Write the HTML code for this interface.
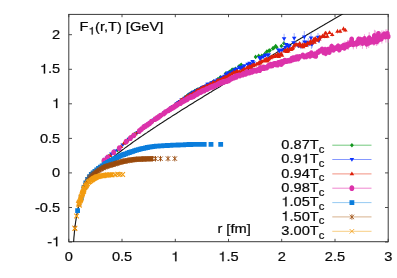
<!DOCTYPE html>
<html><head><meta charset="utf-8"><title>F1(r,T)</title>
<style>
html,body{margin:0;padding:0;background:#fff;}
svg{display:block;filter:blur(0.35px);}
text{font-family:"Liberation Sans",sans-serif;font-size:13.3px;fill:#0a0a0a;stroke:#0a0a0a;stroke-width:0.22px;}
</style></head><body>
<svg width="397" height="278" viewBox="0 0 397 278">
<rect x="0" y="0" width="397" height="278" fill="#ffffff"/>
<defs><clipPath id="cp"><rect x="68.8" y="14.0" width="319.4" height="228.0"/></clipPath></defs>
<path d="M68.8 242.0v-3.2M68.8 14.0v3.2M122.0 242.0v-3.2M122.0 14.0v3.2M175.3 242.0v-3.2M175.3 14.0v3.2M228.5 242.0v-3.2M228.5 14.0v3.2M281.7 242.0v-3.2M281.7 14.0v3.2M335.0 242.0v-3.2M335.0 14.0v3.2M388.2 242.0v-3.2M388.2 14.0v3.2M68.8 242.0h3.2M388.2 242.0h-3.2M68.8 207.5h3.2M388.2 207.5h-3.2M68.8 172.9h3.2M388.2 172.9h-3.2M68.8 138.4h3.2M388.2 138.4h-3.2M68.8 103.8h3.2M388.2 103.8h-3.2M68.8 69.3h3.2M388.2 69.3h-3.2M68.8 34.7h3.2M388.2 34.7h-3.2" stroke="#3a3a3a" stroke-width="0.9" fill="none"/>
<rect x="68.8" y="14.4" width="319.4" height="227.3" fill="none" stroke="#3a3a3a" stroke-width="1"/>
<polyline clip-path="url(#cp)" points="72.0,273.2 72.2,266.7 72.5,261.0 72.7,256.0 73.0,251.6 73.2,247.5 73.4,243.9 73.7,240.6 73.9,237.6 74.2,234.9 74.4,232.3 74.7,229.9 74.9,227.8 75.1,225.7 75.4,223.8 75.6,222.0 75.9,220.3 76.1,218.8 76.3,217.3 76.6,215.8 76.8,214.5 77.1,213.2 77.3,212.0 77.5,210.8 77.8,209.7 78.0,208.6 78.3,207.6 78.5,206.6 78.8,205.7 79.0,204.8 79.2,203.9 79.5,203.0 79.7,202.2 80.0,201.4 80.2,200.7 80.4,199.9 80.7,199.2 80.9,198.5 81.2,197.8 81.4,197.2 81.7,196.5 81.9,195.9 82.1,195.3 82.4,194.7 82.6,194.1 82.9,193.6 83.1,193.0 83.3,192.5 83.6,191.9 83.8,191.4 84.1,190.9 84.3,190.4 84.6,189.9 84.8,189.5 85.0,189.0 85.3,188.5 85.5,188.1 85.8,187.6 86.0,187.2 86.2,186.8 86.5,186.3 86.7,185.9 87.0,185.5 87.2,185.1 87.5,184.7 87.7,184.3 87.9,183.9 88.2,183.6 88.4,183.2 88.7,182.8 88.9,182.5 89.1,182.1 89.4,181.7 89.6,181.4 89.9,181.0 90.1,180.7 90.4,180.4 90.6,180.0 90.8,179.7 91.1,179.4 91.3,179.0 91.6,178.7 91.8,178.4 92.0,178.1 92.3,177.8 92.5,177.5 92.8,177.2 93.0,176.9 93.3,176.6 93.5,176.3 93.7,176.0 94.0,175.7 94.2,175.4 94.5,175.1 94.7,174.8 94.9,174.5 95.2,174.3 95.4,174.0 95.7,173.7 95.9,173.4 96.2,173.2 96.4,172.9 96.6,172.6 96.9,172.4 97.1,172.1 97.4,171.8 97.6,171.6 97.8,171.3 98.1,171.1 98.3,170.8 98.6,170.5 98.8,170.3 99.0,170.0 99.3,169.8 99.5,169.5 99.8,169.3 100.0,169.1 100.3,168.8 100.5,168.6 100.7,168.3 102.0,167.1 103.3,165.8 104.6,164.6 105.9,163.5 107.2,162.3 108.4,161.2 109.7,160.1 111.0,159.0 112.3,157.9 113.6,156.9 114.9,155.8 116.1,154.8 117.4,153.8 118.7,152.8 120.0,151.8 121.3,150.8 122.6,149.8 123.9,148.9 125.1,147.9 126.4,147.0 127.7,146.0 129.0,145.1 130.3,144.2 131.6,143.2 132.8,142.3 134.1,141.4 135.4,140.5 136.7,139.6 138.0,138.7 139.3,137.8 140.5,137.0 141.8,136.1 143.1,135.2 144.4,134.3 145.7,133.5 147.0,132.6 148.2,131.7 149.5,130.9 150.8,130.0 152.1,129.2 153.4,128.3 154.7,127.5 156.0,126.6 157.2,125.8 158.5,124.9 159.8,124.1 161.1,123.3 162.4,122.4 163.7,121.6 164.9,120.8 166.2,119.9 167.5,119.1 168.8,118.3 170.1,117.5 171.4,116.6 172.6,115.8 173.9,115.0 175.2,114.2 176.5,113.4 177.8,112.6 179.1,111.8 180.3,110.9 181.6,110.1 182.9,109.3 184.2,108.5 185.5,107.7 186.8,106.9 188.1,106.1 189.3,105.3 190.6,104.5 191.9,103.7 193.2,102.9 194.5,102.1 195.8,101.3 197.0,100.5 198.3,99.7 199.6,99.0 200.9,98.2 202.2,97.4 203.5,96.6 204.7,95.8 206.0,95.0 207.3,94.2 208.6,93.4 209.9,92.6 211.2,91.9 212.4,91.1 213.7,90.3 215.0,89.5 216.3,88.7 217.6,88.0 218.9,87.2 220.2,86.4 221.4,85.6 222.7,84.8 224.0,84.1 225.3,83.3 226.6,82.5 227.9,81.7 229.1,81.0 230.4,80.2 231.7,79.4 233.0,78.6 234.3,77.9 235.6,77.1 236.8,76.3 238.1,75.5 239.4,74.8 240.7,74.0 242.0,73.2 243.3,72.5 244.6,71.7 245.8,70.9 247.1,70.2 248.4,69.4 249.7,68.6 251.0,67.9 252.3,67.1 253.5,66.3 254.8,65.6 256.1,64.8 257.4,64.0 258.7,63.3 260.0,62.5 261.2,61.7 262.5,61.0 263.8,60.2 265.1,59.4 266.4,58.7 267.7,57.9 268.9,57.2 270.2,56.4 271.5,55.6 272.8,54.9 274.1,54.1 275.4,53.4 276.7,52.6 277.9,51.8 279.2,51.1 280.5,50.3 281.8,49.6 283.1,48.8 284.4,48.0 285.6,47.3 286.9,46.5 288.2,45.8 289.5,45.0 290.8,44.3 292.1,43.5 293.3,42.7 294.6,42.0 295.9,41.2 297.2,40.5 298.5,39.7 299.8,39.0 301.0,38.2 302.3,37.5 303.6,36.7 304.9,35.9 306.2,35.2 307.5,34.4 308.8,33.7 310.0,32.9 311.3,32.2 312.6,31.4 313.9,30.7 315.2,29.9 316.5,29.2 317.7,28.4 319.0,27.7 320.3,26.9 321.6,26.2 322.9,25.4 324.2,24.7 325.4,23.9 326.7,23.2 328.0,22.4 329.3,21.7 330.6,20.9 331.9,20.2 333.1,19.4 334.4,18.7 335.7,17.9 337.0,17.2 338.3,16.4 339.6,15.7 340.9,14.9 342.1,14.2 343.4,13.4 344.7,12.7 346.0,11.9 347.3,11.2 348.6,10.4 349.8,9.7 351.1,8.9 352.4,8.2 353.7,7.5 355.0,6.7 356.3,6.0" fill="none" stroke="#181818" stroke-width="1.15"/>
<g><path d="M103.3 158.8l1.9 2.3l-1.9 2.3l-1.9 -2.3zM108.6 154.1l1.9 2.3l-1.9 2.3l-1.9 -2.3zM113.3 150.5l1.9 2.3l-1.9 2.3l-1.9 -2.3zM117.6 147.8l1.9 2.3l-1.9 2.3l-1.9 -2.3zM125.1 140.4l1.9 2.3l-1.9 2.3l-1.9 -2.3zM128.5 136.8l1.9 2.3l-1.9 2.3l-1.9 -2.3zM131.8 134.6l1.9 2.3l-1.9 2.3l-1.9 -2.3zM134.8 131.8l1.9 2.3l-1.9 2.3l-1.9 -2.3zM137.8 129.8l1.9 2.3l-1.9 2.3l-1.9 -2.3zM140.6 127.5l1.9 2.3l-1.9 2.3l-1.9 -2.3zM143.3 125.6l1.9 2.3l-1.9 2.3l-1.9 -2.3zM148.4 121.6l1.9 2.3l-1.9 2.3l-1.9 -2.3zM150.9 119.8l1.9 2.3l-1.9 2.3l-1.9 -2.3zM153.3 118.4l1.9 2.3l-1.9 2.3l-1.9 -2.3zM155.6 116.5l1.9 2.3l-1.9 2.3l-1.9 -2.3zM157.8 114.4l1.9 2.3l-1.9 2.3l-1.9 -2.3zM160.0 113.3l1.9 2.3l-1.9 2.3l-1.9 -2.3zM162.2 112.0l1.9 2.3l-1.9 2.3l-1.9 -2.3zM166.3 108.9l1.9 2.3l-1.9 2.3l-1.9 -2.3zM168.3 107.6l1.9 2.3l-1.9 2.3l-1.9 -2.3zM170.3 106.3l1.9 2.3l-1.9 2.3l-1.9 -2.3zM172.3 105.2l1.9 2.3l-1.9 2.3l-1.9 -2.3zM176.0 101.8l1.9 2.3l-1.9 2.3l-1.9 -2.3zM177.8 100.8l1.9 2.3l-1.9 2.3l-1.9 -2.3zM181.4 98.1l1.9 2.3l-1.9 2.3l-1.9 -2.3zM183.2 97.1l1.9 2.3l-1.9 2.3l-1.9 -2.3zM184.9 95.2l1.9 2.3l-1.9 2.3l-1.9 -2.3zM186.6 94.0l1.9 2.3l-1.9 2.3l-1.9 -2.3zM188.3 92.6l1.9 2.3l-1.9 2.3l-1.9 -2.3zM189.9 91.8l1.9 2.3l-1.9 2.3l-1.9 -2.3zM191.5 90.6l1.9 2.3l-1.9 2.3l-1.9 -2.3zM194.7 88.7l1.9 2.3l-1.9 2.3l-1.9 -2.3zM196.3 87.9l1.9 2.3l-1.9 2.3l-1.9 -2.3zM197.8 87.3l1.9 2.3l-1.9 2.3l-1.9 -2.3zM199.4 86.7l1.9 2.3l-1.9 2.3l-1.9 -2.3zM200.9 86.2l1.9 2.3l-1.9 2.3l-1.9 -2.3zM202.4 85.7l1.9 2.3l-1.9 2.3l-1.9 -2.3zM203.8 85.1l1.9 2.3l-1.9 2.3l-1.9 -2.3zM206.7 83.0l1.9 2.3l-1.9 2.3l-1.9 -2.3zM208.2 82.5l1.9 2.3l-1.9 2.3l-1.9 -2.3zM209.6 82.5l1.9 2.3l-1.9 2.3l-1.9 -2.3zM211.0 81.1l1.9 2.3l-1.9 2.3l-1.9 -2.3zM213.7 79.2l1.9 2.3l-1.9 2.3l-1.9 -2.3zM217.8 76.9l1.9 2.3l-1.9 2.3l-1.9 -2.3zM219.1 76.7l1.9 2.3l-1.9 2.3l-1.9 -2.3zM220.4 75.0l1.9 2.3l-1.9 2.3l-1.9 -2.3zM225.6 71.3l1.9 2.3l-1.9 2.3l-1.9 -2.3zM229.3 69.6l1.9 2.3l-1.9 2.3l-1.9 -2.3zM230.5 69.5l1.9 2.3l-1.9 2.3l-1.9 -2.3zM231.8 67.8l1.9 2.3l-1.9 2.3l-1.9 -2.3zM233.0 67.2l1.9 2.3l-1.9 2.3l-1.9 -2.3zM234.2 67.7l1.9 2.3l-1.9 2.3l-1.9 -2.3zM235.4 66.4l1.9 2.3l-1.9 2.3l-1.9 -2.3zM238.9 64.3l1.9 2.3l-1.9 2.3l-1.9 -2.3zM240.1 63.4l1.9 2.3l-1.9 2.3l-1.9 -2.3zM241.2 62.4l1.9 2.3l-1.9 2.3l-1.9 -2.3zM255.6 54.6l1.9 2.3l-1.9 2.3l-1.9 -2.3zM258.7 53.6l1.9 2.3l-1.9 2.3l-1.9 -2.3zM261.8 53.4l1.9 2.3l-1.9 2.3l-1.9 -2.3zM263.9 52.9l1.9 2.3l-1.9 2.3l-1.9 -2.3zM264.9 51.6l1.9 2.3l-1.9 2.3l-1.9 -2.3zM266.9 49.2l1.9 2.3l-1.9 2.3l-1.9 -2.3zM268.9 48.5l1.9 2.3l-1.9 2.3l-1.9 -2.3zM269.9 48.1l1.9 2.3l-1.9 2.3l-1.9 -2.3zM272.8 46.1l1.9 2.3l-1.9 2.3l-1.9 -2.3zM273.8 45.7l1.9 2.3l-1.9 2.3l-1.9 -2.3zM275.7 43.8l1.9 2.3l-1.9 2.3l-1.9 -2.3zM276.7 44.9l1.9 2.3l-1.9 2.3l-1.9 -2.3zM281.4 43.8l1.9 2.3l-1.9 2.3l-1.9 -2.3zM283.9 40.9l1.9 2.3l-1.9 2.3l-1.9 -2.3z" fill="#12961e"/></g>
<g><path d="M263.1 54.7v4.3M267.8 53.1v3.8M278.4 48.1v3.4M279.3 49.2v4.4M281.9 47.1v6.1M284.4 48.3v3.2M285.3 44.9v5.1M288.6 44.8v4.0M289.4 43.8v5.1M293.5 41.0v3.4M295.1 40.8v6.7M298.3 43.9v4.0M299.9 43.6v3.7M300.6 42.1v7.0M302.2 41.7v7.3M304.5 37.0v9.8M306.1 40.6v3.0M308.3 38.0v9.2M309.9 41.4v4.5M311.4 38.6v10.3M312.1 40.4v7.4M318.0 33.0v8.4M319.5 34.9v8.2M284.1 33.8v9.7M294.2 33.0v10.4M304.3 31.1v11.7M311.0 32.5v11.1" stroke="#778cff" stroke-width="0.7" fill="none"/><path d="M106.9 160.3l2.3 -3.7h-4.6zM111.4 156.2l2.3 -3.7h-4.6zM115.5 153.2l2.3 -3.7h-4.6zM122.7 147.1l2.3 -3.7h-4.6zM126.0 144.0l2.3 -3.7h-4.6zM129.1 141.5l2.3 -3.7h-4.6zM132.0 139.1l2.3 -3.7h-4.6zM134.8 136.6l2.3 -3.7h-4.6zM137.5 134.7l2.3 -3.7h-4.6zM140.1 132.6l2.3 -3.7h-4.6zM145.0 128.2l2.3 -3.7h-4.6zM147.4 127.0l2.3 -3.7h-4.6zM149.7 125.4l2.3 -3.7h-4.6zM151.9 123.8l2.3 -3.7h-4.6zM154.0 122.2l2.3 -3.7h-4.6zM156.1 120.7l2.3 -3.7h-4.6zM158.2 119.6l2.3 -3.7h-4.6zM162.2 116.6l2.3 -3.7h-4.6zM164.1 115.3l2.3 -3.7h-4.6zM166.0 113.8l2.3 -3.7h-4.6zM167.8 112.8l2.3 -3.7h-4.6zM171.4 109.9l2.3 -3.7h-4.6zM173.2 108.6l2.3 -3.7h-4.6zM176.6 106.1l2.3 -3.7h-4.6zM178.3 104.8l2.3 -3.7h-4.6zM179.9 103.7l2.3 -3.7h-4.6zM181.5 102.1l2.3 -3.7h-4.6zM183.1 102.1l2.3 -3.7h-4.6zM184.7 100.5l2.3 -3.7h-4.6zM186.3 99.5l2.3 -3.7h-4.6zM189.3 97.2l2.3 -3.7h-4.6zM190.8 96.3l2.3 -3.7h-4.6zM192.3 95.3l2.3 -3.7h-4.6zM193.8 94.1l2.3 -3.7h-4.6zM195.2 93.9l2.3 -3.7h-4.6zM196.6 92.9l2.3 -3.7h-4.6zM198.1 92.0l2.3 -3.7h-4.6zM200.8 91.0l2.3 -3.7h-4.6zM202.2 89.8l2.3 -3.7h-4.6zM203.6 89.1l2.3 -3.7h-4.6zM204.9 88.7l2.3 -3.7h-4.6zM206.2 88.3l2.3 -3.7h-4.6zM207.5 86.5l2.3 -3.7h-4.6zM208.8 86.2l2.3 -3.7h-4.6zM211.4 85.1l2.3 -3.7h-4.6zM212.7 84.6l2.3 -3.7h-4.6zM213.9 84.0l2.3 -3.7h-4.6zM215.2 83.1l2.3 -3.7h-4.6zM217.6 82.2l2.3 -3.7h-4.6zM218.9 81.9l2.3 -3.7h-4.6zM221.3 80.0l2.3 -3.7h-4.6zM222.4 79.6l2.3 -3.7h-4.6zM223.6 79.1l2.3 -3.7h-4.6zM224.8 78.4l2.3 -3.7h-4.6zM226.0 76.6l2.3 -3.7h-4.6zM227.1 76.2l2.3 -3.7h-4.6zM228.2 74.9l2.3 -3.7h-4.6zM231.6 74.7l2.3 -3.7h-4.6zM232.7 74.3l2.3 -3.7h-4.6zM233.8 73.1l2.3 -3.7h-4.6zM234.9 71.9l2.3 -3.7h-4.6zM236.0 71.8l2.3 -3.7h-4.6zM237.1 71.3l2.3 -3.7h-4.6zM239.3 69.5l2.3 -3.7h-4.6zM240.3 70.7l2.3 -3.7h-4.6zM241.4 70.6l2.3 -3.7h-4.6zM242.4 69.7l2.3 -3.7h-4.6zM243.5 69.0l2.3 -3.7h-4.6zM244.5 68.0l2.3 -3.7h-4.6zM247.6 66.4l2.3 -3.7h-4.6zM248.6 66.5l2.3 -3.7h-4.6zM249.6 65.5l2.3 -3.7h-4.6zM250.6 66.8l2.3 -3.7h-4.6zM252.6 63.7l2.3 -3.7h-4.6zM253.6 65.1l2.3 -3.7h-4.6zM259.4 59.9l2.3 -3.7h-4.6zM260.3 61.2l2.3 -3.7h-4.6zM261.3 59.8l2.3 -3.7h-4.6zM263.1 59.1l2.3 -3.7h-4.6zM265.0 57.8l2.3 -3.7h-4.6zM265.9 57.1l2.3 -3.7h-4.6zM267.8 57.3l2.3 -3.7h-4.6zM268.7 56.9l2.3 -3.7h-4.6zM278.4 52.1l2.3 -3.7h-4.6zM279.3 53.6l2.3 -3.7h-4.6zM281.9 52.5l2.3 -3.7h-4.6zM284.4 52.2l2.3 -3.7h-4.6zM285.3 49.8l2.3 -3.7h-4.6zM286.1 46.6l2.3 -3.7h-4.6zM287.8 47.5l2.3 -3.7h-4.6zM288.6 49.1l2.3 -3.7h-4.6zM289.4 48.6l2.3 -3.7h-4.6zM293.5 45.0l2.3 -3.7h-4.6zM295.1 46.4l2.3 -3.7h-4.6zM298.3 48.2l2.3 -3.7h-4.6zM299.9 47.7l2.3 -3.7h-4.6zM300.6 47.9l2.3 -3.7h-4.6zM302.2 47.6l2.3 -3.7h-4.6zM304.5 44.2l2.3 -3.7h-4.6zM306.1 44.4l2.3 -3.7h-4.6zM307.6 46.4l2.3 -3.7h-4.6zM308.3 44.9l2.3 -3.7h-4.6zM309.9 45.9l2.3 -3.7h-4.6zM311.4 46.0l2.3 -3.7h-4.6zM312.1 46.4l2.3 -3.7h-4.6zM318.0 39.5l2.3 -3.7h-4.6zM318.7 42.9l2.3 -3.7h-4.6zM319.5 41.3l2.3 -3.7h-4.6zM284.1 40.9l2.3 -3.7h-4.6zM294.2 40.5l2.3 -3.7h-4.6zM304.3 39.3l2.3 -3.7h-4.6zM311.0 40.3l2.3 -3.7h-4.6z" fill="#0a32ff"/></g>
<g><path d="M295.9 43.0v3.0M303.2 45.3v3.1M306.1 43.2v3.5M313.8 37.8v3.3M317.3 38.9v3.0M322.0 35.1v3.2M324.7 34.7v3.8M327.3 34.2v4.1M332.2 32.6v4.1M337.5 28.9v4.8M340.1 29.2v4.1M343.5 26.5v4.8M345.4 28.1v4.1" stroke="#f08472" stroke-width="0.7" fill="none"/><path d="M105.6 157.0l2.3 3.7h-4.6zM110.0 153.3l2.3 3.7h-4.6zM113.9 149.8l2.3 3.7h-4.6zM120.9 144.4l2.3 3.7h-4.6zM124.1 140.8l2.3 3.7h-4.6zM127.0 138.6l2.3 3.7h-4.6zM129.9 135.8l2.3 3.7h-4.6zM132.6 133.3l2.3 3.7h-4.6zM135.2 131.9l2.3 3.7h-4.6zM137.7 129.8l2.3 3.7h-4.6zM142.5 125.9l2.3 3.7h-4.6zM144.7 123.5l2.3 3.7h-4.6zM146.9 122.8l2.3 3.7h-4.6zM149.1 120.8l2.3 3.7h-4.6zM151.2 119.3l2.3 3.7h-4.6zM153.2 118.0l2.3 3.7h-4.6zM155.2 116.8l2.3 3.7h-4.6zM159.0 114.4l2.3 3.7h-4.6zM160.9 113.0l2.3 3.7h-4.6zM162.7 111.9l2.3 3.7h-4.6zM164.5 110.0l2.3 3.7h-4.6zM168.0 108.1l2.3 3.7h-4.6zM169.7 106.8l2.3 3.7h-4.6zM173.0 104.4l2.3 3.7h-4.6zM174.6 103.2l2.3 3.7h-4.6zM176.2 101.9l2.3 3.7h-4.6zM177.8 101.0l2.3 3.7h-4.6zM179.3 99.8l2.3 3.7h-4.6zM180.8 98.1l2.3 3.7h-4.6zM182.3 97.1l2.3 3.7h-4.6zM185.3 95.4l2.3 3.7h-4.6zM186.7 94.2l2.3 3.7h-4.6zM188.2 93.9l2.3 3.7h-4.6zM189.6 92.8l2.3 3.7h-4.6zM191.0 92.5l2.3 3.7h-4.6zM192.4 91.6l2.3 3.7h-4.6zM193.7 90.7l2.3 3.7h-4.6zM196.4 88.5l2.3 3.7h-4.6zM197.7 88.2l2.3 3.7h-4.6zM199.0 87.4l2.3 3.7h-4.6zM200.3 86.8l2.3 3.7h-4.6zM201.6 86.0l2.3 3.7h-4.6zM202.9 85.3l2.3 3.7h-4.6zM204.1 84.6l2.3 3.7h-4.6zM206.6 83.7l2.3 3.7h-4.6zM207.9 83.6l2.3 3.7h-4.6zM209.1 83.0l2.3 3.7h-4.6zM210.3 81.7l2.3 3.7h-4.6zM212.7 80.4l2.3 3.7h-4.6zM213.8 80.1l2.3 3.7h-4.6zM216.1 79.9l2.3 3.7h-4.6zM217.3 78.2l2.3 3.7h-4.6zM218.4 78.3l2.3 3.7h-4.6zM219.6 78.0l2.3 3.7h-4.6zM220.7 77.5l2.3 3.7h-4.6zM221.8 77.1l2.3 3.7h-4.6zM222.9 75.7l2.3 3.7h-4.6zM225.1 74.5l2.3 3.7h-4.6zM226.2 75.2l2.3 3.7h-4.6zM227.2 74.3l2.3 3.7h-4.6zM228.3 73.6l2.3 3.7h-4.6zM229.4 72.6l2.3 3.7h-4.6zM230.4 73.7l2.3 3.7h-4.6zM231.5 71.5l2.3 3.7h-4.6zM233.5 70.0l2.3 3.7h-4.6zM234.6 70.6l2.3 3.7h-4.6zM235.6 70.1l2.3 3.7h-4.6zM236.6 69.1l2.3 3.7h-4.6zM237.6 69.3l2.3 3.7h-4.6zM238.6 69.9l2.3 3.7h-4.6zM239.6 69.5l2.3 3.7h-4.6zM241.6 68.6l2.3 3.7h-4.6zM242.6 68.4l2.3 3.7h-4.6zM243.5 67.1l2.3 3.7h-4.6zM244.5 66.9l2.3 3.7h-4.6zM246.4 65.9l2.3 3.7h-4.6zM247.4 65.2l2.3 3.7h-4.6zM249.3 63.9l2.3 3.7h-4.6zM250.2 64.5l2.3 3.7h-4.6zM251.1 65.4l2.3 3.7h-4.6zM252.1 63.0l2.3 3.7h-4.6zM253.0 63.5l2.3 3.7h-4.6zM253.9 62.3l2.3 3.7h-4.6zM254.8 62.9l2.3 3.7h-4.6zM256.6 61.7l2.3 3.7h-4.6zM257.5 61.7l2.3 3.7h-4.6zM258.4 61.2l2.3 3.7h-4.6zM259.3 59.9l2.3 3.7h-4.6zM260.2 60.7l2.3 3.7h-4.6zM261.1 59.5l2.3 3.7h-4.6zM262.0 58.9l2.3 3.7h-4.6zM264.6 57.8l2.3 3.7h-4.6zM265.5 58.7l2.3 3.7h-4.6zM266.3 56.6l2.3 3.7h-4.6zM267.2 58.7l2.3 3.7h-4.6zM268.0 57.6l2.3 3.7h-4.6zM268.9 56.6l2.3 3.7h-4.6zM270.6 55.5l2.3 3.7h-4.6zM271.4 54.8l2.3 3.7h-4.6zM272.2 54.5l2.3 3.7h-4.6zM273.1 54.3l2.3 3.7h-4.6zM274.7 54.3l2.3 3.7h-4.6zM275.5 52.7l2.3 3.7h-4.6zM277.2 53.3l2.3 3.7h-4.6zM278.0 51.8l2.3 3.7h-4.6zM278.8 54.4l2.3 3.7h-4.6zM279.6 52.9l2.3 3.7h-4.6zM280.4 52.2l2.3 3.7h-4.6zM281.2 51.2l2.3 3.7h-4.6zM282.0 53.0l2.3 3.7h-4.6zM284.4 48.7l2.3 3.7h-4.6zM285.2 48.2l2.3 3.7h-4.6zM286.0 48.2l2.3 3.7h-4.6zM286.7 49.3l2.3 3.7h-4.6zM287.5 47.1l2.3 3.7h-4.6zM288.3 48.9l2.3 3.7h-4.6zM289.8 46.7l2.3 3.7h-4.6zM290.6 47.3l2.3 3.7h-4.6zM291.4 46.7l2.3 3.7h-4.6zM292.1 46.3l2.3 3.7h-4.6zM292.9 45.6l2.3 3.7h-4.6zM293.6 43.8l2.3 3.7h-4.6zM294.4 42.9l2.3 3.7h-4.6zM295.9 42.2l2.3 3.7h-4.6zM296.6 42.6l2.3 3.7h-4.6zM297.4 42.7l2.3 3.7h-4.6zM298.1 42.9l2.3 3.7h-4.6zM299.6 41.1l2.3 3.7h-4.6zM300.3 43.7l2.3 3.7h-4.6zM301.8 43.6l2.3 3.7h-4.6zM302.5 42.6l2.3 3.7h-4.6zM303.2 44.6l2.3 3.7h-4.6zM304.0 42.6l2.3 3.7h-4.6zM304.7 42.2l2.3 3.7h-4.6zM305.4 43.3l2.3 3.7h-4.6zM306.1 42.7l2.3 3.7h-4.6zM307.5 40.7l2.3 3.7h-4.6zM309.0 41.5l2.3 3.7h-4.6zM309.7 40.7l2.3 3.7h-4.6zM310.4 38.9l2.3 3.7h-4.6zM311.1 40.7l2.3 3.7h-4.6zM311.8 40.9l2.3 3.7h-4.6zM313.2 38.3l2.3 3.7h-4.6zM313.8 37.1l2.3 3.7h-4.6zM314.5 40.0l2.3 3.7h-4.6zM315.2 36.1l2.3 3.7h-4.6zM315.9 37.4l2.3 3.7h-4.6zM316.6 37.5l2.3 3.7h-4.6zM317.3 38.1l2.3 3.7h-4.6zM319.3 36.8l2.3 3.7h-4.6zM320.0 34.8l2.3 3.7h-4.6zM322.0 34.4l2.3 3.7h-4.6zM322.7 33.5l2.3 3.7h-4.6zM324.7 34.3l2.3 3.7h-4.6zM325.3 30.8l2.3 3.7h-4.6zM326.0 31.1l2.3 3.7h-4.6zM327.3 34.0l2.3 3.7h-4.6zM329.5 30.3l2.3 3.7h-4.6zM332.2 32.4l2.3 3.7h-4.6zM337.5 29.0l2.3 3.7h-4.6zM340.1 29.0l2.3 3.7h-4.6zM343.5 26.6l2.3 3.7h-4.6zM345.4 27.9l2.3 3.7h-4.6z" fill="#de1f0a"/></g>
<g><path d="M251.3 69.9v3.0M257.2 68.6v3.0M264.5 66.6v3.1M269.9 63.7v3.7M271.5 63.4v4.1M276.8 62.6v3.0M277.5 62.9v3.7M278.3 60.7v4.7M280.5 60.6v3.4M281.2 61.4v5.0M282.7 60.3v4.9M284.1 59.3v4.2M286.3 59.3v3.9M287.7 58.7v4.1M291.9 56.7v3.6M293.3 55.6v5.3M294.0 56.8v4.4M296.1 54.7v5.6M297.5 54.5v5.4M298.1 55.6v5.7M306.1 53.8v5.1M306.8 52.6v6.9M308.1 52.3v5.7M310.0 52.4v6.8M311.3 51.5v3.5M312.0 52.1v4.3M313.2 52.1v5.9M314.5 52.9v5.2M315.2 50.7v7.0M318.3 50.6v3.0M322.0 47.8v3.3M323.2 47.5v5.2M324.5 47.0v7.8M325.1 46.3v7.4M325.7 49.4v7.1M326.3 47.3v8.5M328.1 46.8v5.8M328.7 46.7v6.8M329.3 50.2v3.8M329.9 46.0v8.5M331.1 45.1v8.1M331.7 43.4v6.6M332.8 47.6v3.2M333.4 46.6v6.2M334.0 46.1v4.6M335.8 46.5v3.4M336.3 45.0v5.6M338.1 43.1v6.9M338.7 43.7v8.9M339.2 47.0v5.0M340.4 45.8v3.5M341.0 45.2v4.4M343.2 42.5v6.7M343.8 42.4v7.3M344.4 45.4v4.8M344.9 41.3v9.1M345.5 42.6v5.6M347.2 42.7v6.9M347.7 39.9v9.0M348.3 40.1v9.8M349.4 41.0v6.2M351.1 37.9v8.9M351.6 37.7v3.5M352.2 39.0v7.4M353.3 39.1v10.3M356.0 39.4v7.9M356.5 38.6v10.3M357.1 39.5v6.2M358.1 41.5v3.2M358.7 36.3v6.3M360.3 36.3v10.3M360.8 37.5v4.7M362.4 37.1v11.8M364.0 40.3v3.8M364.5 34.3v9.3M366.6 38.5v10.5M367.1 38.7v4.8M368.7 37.8v10.1M369.2 32.2v12.0M370.8 38.9v5.9M372.3 37.3v5.2M372.8 36.8v5.8M373.9 38.0v8.0M374.4 29.8v12.1M374.9 36.7v6.1M375.4 30.5v13.0M376.4 34.7v11.1M376.9 36.8v8.8M377.4 33.4v10.1M377.9 31.6v13.3M378.4 31.8v4.0M378.9 35.4v8.1M381.4 35.3v6.3M381.9 30.3v13.3M383.4 30.6v8.6M384.4 31.2v6.6M385.4 34.6v3.9M385.9 29.4v13.1M386.8 32.5v4.2M387.3 29.3v9.0M388.2 30.1v12.6" stroke="#ee78cb" stroke-width="0.7" fill="none"/><path d="M101.7 160.4a2.4 2.4 0 1 0 4.7 0a2.4 2.4 0 1 0 -4.7 0zM105.3 157.5a2.4 2.4 0 1 0 4.7 0a2.4 2.4 0 1 0 -4.7 0zM111.3 152.4a2.4 2.4 0 1 0 4.7 0a2.4 2.4 0 1 0 -4.7 0zM116.9 148.2a2.4 2.4 0 1 0 4.7 0a2.4 2.4 0 1 0 -4.7 0zM123.9 141.6a2.4 2.4 0 1 0 4.7 0a2.4 2.4 0 1 0 -4.7 0zM128.0 138.2a2.4 2.4 0 1 0 4.7 0a2.4 2.4 0 1 0 -4.7 0zM131.5 135.3a2.4 2.4 0 1 0 4.7 0a2.4 2.4 0 1 0 -4.7 0zM137.0 131.0a2.4 2.4 0 1 0 4.7 0a2.4 2.4 0 1 0 -4.7 0zM139.2 129.1a2.4 2.4 0 1 0 4.7 0a2.4 2.4 0 1 0 -4.7 0zM141.3 127.2a2.4 2.4 0 1 0 4.7 0a2.4 2.4 0 1 0 -4.7 0zM143.3 126.1a2.4 2.4 0 1 0 4.7 0a2.4 2.4 0 1 0 -4.7 0zM145.3 124.7a2.4 2.4 0 1 0 4.7 0a2.4 2.4 0 1 0 -4.7 0zM147.3 123.3a2.4 2.4 0 1 0 4.7 0a2.4 2.4 0 1 0 -4.7 0zM149.2 121.6a2.4 2.4 0 1 0 4.7 0a2.4 2.4 0 1 0 -4.7 0zM152.9 119.1a2.4 2.4 0 1 0 4.7 0a2.4 2.4 0 1 0 -4.7 0zM154.7 118.0a2.4 2.4 0 1 0 4.7 0a2.4 2.4 0 1 0 -4.7 0zM156.4 116.9a2.4 2.4 0 1 0 4.7 0a2.4 2.4 0 1 0 -4.7 0zM158.1 115.6a2.4 2.4 0 1 0 4.7 0a2.4 2.4 0 1 0 -4.7 0zM161.5 113.6a2.4 2.4 0 1 0 4.7 0a2.4 2.4 0 1 0 -4.7 0zM163.1 112.1a2.4 2.4 0 1 0 4.7 0a2.4 2.4 0 1 0 -4.7 0zM166.2 110.3a2.4 2.4 0 1 0 4.7 0a2.4 2.4 0 1 0 -4.7 0zM167.8 109.2a2.4 2.4 0 1 0 4.7 0a2.4 2.4 0 1 0 -4.7 0zM169.3 108.2a2.4 2.4 0 1 0 4.7 0a2.4 2.4 0 1 0 -4.7 0zM170.8 107.5a2.4 2.4 0 1 0 4.7 0a2.4 2.4 0 1 0 -4.7 0zM172.3 106.5a2.4 2.4 0 1 0 4.7 0a2.4 2.4 0 1 0 -4.7 0zM173.8 105.5a2.4 2.4 0 1 0 4.7 0a2.4 2.4 0 1 0 -4.7 0zM175.2 104.6a2.4 2.4 0 1 0 4.7 0a2.4 2.4 0 1 0 -4.7 0zM178.0 103.2a2.4 2.4 0 1 0 4.7 0a2.4 2.4 0 1 0 -4.7 0zM179.4 101.9a2.4 2.4 0 1 0 4.7 0a2.4 2.4 0 1 0 -4.7 0zM180.8 101.3a2.4 2.4 0 1 0 4.7 0a2.4 2.4 0 1 0 -4.7 0zM182.1 100.5a2.4 2.4 0 1 0 4.7 0a2.4 2.4 0 1 0 -4.7 0zM183.5 99.8a2.4 2.4 0 1 0 4.7 0a2.4 2.4 0 1 0 -4.7 0zM184.8 99.3a2.4 2.4 0 1 0 4.7 0a2.4 2.4 0 1 0 -4.7 0zM186.1 98.1a2.4 2.4 0 1 0 4.7 0a2.4 2.4 0 1 0 -4.7 0zM188.7 97.0a2.4 2.4 0 1 0 4.7 0a2.4 2.4 0 1 0 -4.7 0zM189.9 96.8a2.4 2.4 0 1 0 4.7 0a2.4 2.4 0 1 0 -4.7 0zM191.2 96.2a2.4 2.4 0 1 0 4.7 0a2.4 2.4 0 1 0 -4.7 0zM192.4 95.2a2.4 2.4 0 1 0 4.7 0a2.4 2.4 0 1 0 -4.7 0zM193.7 94.4a2.4 2.4 0 1 0 4.7 0a2.4 2.4 0 1 0 -4.7 0zM194.9 93.9a2.4 2.4 0 1 0 4.7 0a2.4 2.4 0 1 0 -4.7 0zM196.1 92.9a2.4 2.4 0 1 0 4.7 0a2.4 2.4 0 1 0 -4.7 0zM198.5 92.0a2.4 2.4 0 1 0 4.7 0a2.4 2.4 0 1 0 -4.7 0zM199.6 91.2a2.4 2.4 0 1 0 4.7 0a2.4 2.4 0 1 0 -4.7 0zM200.8 90.6a2.4 2.4 0 1 0 4.7 0a2.4 2.4 0 1 0 -4.7 0zM202.0 90.5a2.4 2.4 0 1 0 4.7 0a2.4 2.4 0 1 0 -4.7 0zM204.2 89.2a2.4 2.4 0 1 0 4.7 0a2.4 2.4 0 1 0 -4.7 0zM205.4 88.8a2.4 2.4 0 1 0 4.7 0a2.4 2.4 0 1 0 -4.7 0zM207.6 87.6a2.4 2.4 0 1 0 4.7 0a2.4 2.4 0 1 0 -4.7 0zM208.7 87.1a2.4 2.4 0 1 0 4.7 0a2.4 2.4 0 1 0 -4.7 0zM209.8 86.7a2.4 2.4 0 1 0 4.7 0a2.4 2.4 0 1 0 -4.7 0zM210.9 86.8a2.4 2.4 0 1 0 4.7 0a2.4 2.4 0 1 0 -4.7 0zM211.9 85.9a2.4 2.4 0 1 0 4.7 0a2.4 2.4 0 1 0 -4.7 0zM213.0 85.4a2.4 2.4 0 1 0 4.7 0a2.4 2.4 0 1 0 -4.7 0zM214.0 85.2a2.4 2.4 0 1 0 4.7 0a2.4 2.4 0 1 0 -4.7 0zM216.1 84.0a2.4 2.4 0 1 0 4.7 0a2.4 2.4 0 1 0 -4.7 0zM217.2 83.5a2.4 2.4 0 1 0 4.7 0a2.4 2.4 0 1 0 -4.7 0zM218.2 82.9a2.4 2.4 0 1 0 4.7 0a2.4 2.4 0 1 0 -4.7 0zM219.2 82.8a2.4 2.4 0 1 0 4.7 0a2.4 2.4 0 1 0 -4.7 0zM220.2 82.2a2.4 2.4 0 1 0 4.7 0a2.4 2.4 0 1 0 -4.7 0zM221.3 81.9a2.4 2.4 0 1 0 4.7 0a2.4 2.4 0 1 0 -4.7 0zM222.3 81.6a2.4 2.4 0 1 0 4.7 0a2.4 2.4 0 1 0 -4.7 0zM224.2 81.2a2.4 2.4 0 1 0 4.7 0a2.4 2.4 0 1 0 -4.7 0zM225.2 80.7a2.4 2.4 0 1 0 4.7 0a2.4 2.4 0 1 0 -4.7 0zM226.2 80.6a2.4 2.4 0 1 0 4.7 0a2.4 2.4 0 1 0 -4.7 0zM227.2 79.7a2.4 2.4 0 1 0 4.7 0a2.4 2.4 0 1 0 -4.7 0zM228.1 78.9a2.4 2.4 0 1 0 4.7 0a2.4 2.4 0 1 0 -4.7 0zM229.1 78.5a2.4 2.4 0 1 0 4.7 0a2.4 2.4 0 1 0 -4.7 0zM230.1 78.0a2.4 2.4 0 1 0 4.7 0a2.4 2.4 0 1 0 -4.7 0zM231.9 77.5a2.4 2.4 0 1 0 4.7 0a2.4 2.4 0 1 0 -4.7 0zM232.9 76.5a2.4 2.4 0 1 0 4.7 0a2.4 2.4 0 1 0 -4.7 0zM233.8 76.9a2.4 2.4 0 1 0 4.7 0a2.4 2.4 0 1 0 -4.7 0zM234.7 76.0a2.4 2.4 0 1 0 4.7 0a2.4 2.4 0 1 0 -4.7 0zM236.6 75.4a2.4 2.4 0 1 0 4.7 0a2.4 2.4 0 1 0 -4.7 0zM237.5 75.5a2.4 2.4 0 1 0 4.7 0a2.4 2.4 0 1 0 -4.7 0zM240.2 74.7a2.4 2.4 0 1 0 4.7 0a2.4 2.4 0 1 0 -4.7 0zM241.1 73.9a2.4 2.4 0 1 0 4.7 0a2.4 2.4 0 1 0 -4.7 0zM242.9 73.9a2.4 2.4 0 1 0 4.7 0a2.4 2.4 0 1 0 -4.7 0zM243.7 73.6a2.4 2.4 0 1 0 4.7 0a2.4 2.4 0 1 0 -4.7 0zM244.6 72.0a2.4 2.4 0 1 0 4.7 0a2.4 2.4 0 1 0 -4.7 0zM246.4 72.6a2.4 2.4 0 1 0 4.7 0a2.4 2.4 0 1 0 -4.7 0zM247.2 72.5a2.4 2.4 0 1 0 4.7 0a2.4 2.4 0 1 0 -4.7 0zM248.9 71.4a2.4 2.4 0 1 0 4.7 0a2.4 2.4 0 1 0 -4.7 0zM249.8 71.8a2.4 2.4 0 1 0 4.7 0a2.4 2.4 0 1 0 -4.7 0zM250.6 71.3a2.4 2.4 0 1 0 4.7 0a2.4 2.4 0 1 0 -4.7 0zM251.5 70.7a2.4 2.4 0 1 0 4.7 0a2.4 2.4 0 1 0 -4.7 0zM254.0 70.8a2.4 2.4 0 1 0 4.7 0a2.4 2.4 0 1 0 -4.7 0zM254.8 70.1a2.4 2.4 0 1 0 4.7 0a2.4 2.4 0 1 0 -4.7 0zM255.6 69.9a2.4 2.4 0 1 0 4.7 0a2.4 2.4 0 1 0 -4.7 0zM256.5 69.4a2.4 2.4 0 1 0 4.7 0a2.4 2.4 0 1 0 -4.7 0zM257.3 70.2a2.4 2.4 0 1 0 4.7 0a2.4 2.4 0 1 0 -4.7 0zM258.1 67.8a2.4 2.4 0 1 0 4.7 0a2.4 2.4 0 1 0 -4.7 0zM260.5 68.0a2.4 2.4 0 1 0 4.7 0a2.4 2.4 0 1 0 -4.7 0zM261.3 67.4a2.4 2.4 0 1 0 4.7 0a2.4 2.4 0 1 0 -4.7 0zM262.1 68.1a2.4 2.4 0 1 0 4.7 0a2.4 2.4 0 1 0 -4.7 0zM264.5 67.5a2.4 2.4 0 1 0 4.7 0a2.4 2.4 0 1 0 -4.7 0zM266.0 66.0a2.4 2.4 0 1 0 4.7 0a2.4 2.4 0 1 0 -4.7 0zM267.6 65.6a2.4 2.4 0 1 0 4.7 0a2.4 2.4 0 1 0 -4.7 0zM268.4 64.7a2.4 2.4 0 1 0 4.7 0a2.4 2.4 0 1 0 -4.7 0zM269.1 65.5a2.4 2.4 0 1 0 4.7 0a2.4 2.4 0 1 0 -4.7 0zM269.9 65.4a2.4 2.4 0 1 0 4.7 0a2.4 2.4 0 1 0 -4.7 0zM270.7 64.4a2.4 2.4 0 1 0 4.7 0a2.4 2.4 0 1 0 -4.7 0zM272.2 64.0a2.4 2.4 0 1 0 4.7 0a2.4 2.4 0 1 0 -4.7 0zM272.9 63.8a2.4 2.4 0 1 0 4.7 0a2.4 2.4 0 1 0 -4.7 0zM273.7 64.4a2.4 2.4 0 1 0 4.7 0a2.4 2.4 0 1 0 -4.7 0zM274.4 64.1a2.4 2.4 0 1 0 4.7 0a2.4 2.4 0 1 0 -4.7 0zM275.2 64.7a2.4 2.4 0 1 0 4.7 0a2.4 2.4 0 1 0 -4.7 0zM275.9 63.0a2.4 2.4 0 1 0 4.7 0a2.4 2.4 0 1 0 -4.7 0zM276.7 62.9a2.4 2.4 0 1 0 4.7 0a2.4 2.4 0 1 0 -4.7 0zM278.1 62.3a2.4 2.4 0 1 0 4.7 0a2.4 2.4 0 1 0 -4.7 0zM278.9 64.0a2.4 2.4 0 1 0 4.7 0a2.4 2.4 0 1 0 -4.7 0zM279.6 61.9a2.4 2.4 0 1 0 4.7 0a2.4 2.4 0 1 0 -4.7 0zM280.3 62.8a2.4 2.4 0 1 0 4.7 0a2.4 2.4 0 1 0 -4.7 0zM281.1 61.6a2.4 2.4 0 1 0 4.7 0a2.4 2.4 0 1 0 -4.7 0zM281.8 61.4a2.4 2.4 0 1 0 4.7 0a2.4 2.4 0 1 0 -4.7 0zM282.5 60.6a2.4 2.4 0 1 0 4.7 0a2.4 2.4 0 1 0 -4.7 0zM283.9 61.2a2.4 2.4 0 1 0 4.7 0a2.4 2.4 0 1 0 -4.7 0zM285.4 60.8a2.4 2.4 0 1 0 4.7 0a2.4 2.4 0 1 0 -4.7 0zM287.5 60.5a2.4 2.4 0 1 0 4.7 0a2.4 2.4 0 1 0 -4.7 0zM288.2 60.4a2.4 2.4 0 1 0 4.7 0a2.4 2.4 0 1 0 -4.7 0zM289.6 58.6a2.4 2.4 0 1 0 4.7 0a2.4 2.4 0 1 0 -4.7 0zM290.3 59.6a2.4 2.4 0 1 0 4.7 0a2.4 2.4 0 1 0 -4.7 0zM291.0 58.2a2.4 2.4 0 1 0 4.7 0a2.4 2.4 0 1 0 -4.7 0zM291.7 59.0a2.4 2.4 0 1 0 4.7 0a2.4 2.4 0 1 0 -4.7 0zM293.1 58.9a2.4 2.4 0 1 0 4.7 0a2.4 2.4 0 1 0 -4.7 0zM293.7 57.5a2.4 2.4 0 1 0 4.7 0a2.4 2.4 0 1 0 -4.7 0zM295.1 57.2a2.4 2.4 0 1 0 4.7 0a2.4 2.4 0 1 0 -4.7 0zM295.8 58.5a2.4 2.4 0 1 0 4.7 0a2.4 2.4 0 1 0 -4.7 0zM296.5 57.5a2.4 2.4 0 1 0 4.7 0a2.4 2.4 0 1 0 -4.7 0zM297.1 57.0a2.4 2.4 0 1 0 4.7 0a2.4 2.4 0 1 0 -4.7 0zM300.5 55.4a2.4 2.4 0 1 0 4.7 0a2.4 2.4 0 1 0 -4.7 0zM301.8 56.6a2.4 2.4 0 1 0 4.7 0a2.4 2.4 0 1 0 -4.7 0zM303.8 56.3a2.4 2.4 0 1 0 4.7 0a2.4 2.4 0 1 0 -4.7 0zM304.4 56.0a2.4 2.4 0 1 0 4.7 0a2.4 2.4 0 1 0 -4.7 0zM305.8 55.1a2.4 2.4 0 1 0 4.7 0a2.4 2.4 0 1 0 -4.7 0zM307.0 54.6a2.4 2.4 0 1 0 4.7 0a2.4 2.4 0 1 0 -4.7 0zM307.7 55.8a2.4 2.4 0 1 0 4.7 0a2.4 2.4 0 1 0 -4.7 0zM309.0 53.2a2.4 2.4 0 1 0 4.7 0a2.4 2.4 0 1 0 -4.7 0zM309.6 54.3a2.4 2.4 0 1 0 4.7 0a2.4 2.4 0 1 0 -4.7 0zM310.9 55.1a2.4 2.4 0 1 0 4.7 0a2.4 2.4 0 1 0 -4.7 0zM312.2 55.5a2.4 2.4 0 1 0 4.7 0a2.4 2.4 0 1 0 -4.7 0zM312.8 54.2a2.4 2.4 0 1 0 4.7 0a2.4 2.4 0 1 0 -4.7 0zM313.4 55.9a2.4 2.4 0 1 0 4.7 0a2.4 2.4 0 1 0 -4.7 0zM315.9 52.1a2.4 2.4 0 1 0 4.7 0a2.4 2.4 0 1 0 -4.7 0zM317.8 50.8a2.4 2.4 0 1 0 4.7 0a2.4 2.4 0 1 0 -4.7 0zM319.7 49.4a2.4 2.4 0 1 0 4.7 0a2.4 2.4 0 1 0 -4.7 0zM320.9 50.1a2.4 2.4 0 1 0 4.7 0a2.4 2.4 0 1 0 -4.7 0zM321.5 52.4a2.4 2.4 0 1 0 4.7 0a2.4 2.4 0 1 0 -4.7 0zM322.1 50.9a2.4 2.4 0 1 0 4.7 0a2.4 2.4 0 1 0 -4.7 0zM322.7 49.9a2.4 2.4 0 1 0 4.7 0a2.4 2.4 0 1 0 -4.7 0zM323.3 53.0a2.4 2.4 0 1 0 4.7 0a2.4 2.4 0 1 0 -4.7 0zM323.9 51.5a2.4 2.4 0 1 0 4.7 0a2.4 2.4 0 1 0 -4.7 0zM325.7 49.7a2.4 2.4 0 1 0 4.7 0a2.4 2.4 0 1 0 -4.7 0zM326.3 50.1a2.4 2.4 0 1 0 4.7 0a2.4 2.4 0 1 0 -4.7 0zM326.9 52.1a2.4 2.4 0 1 0 4.7 0a2.4 2.4 0 1 0 -4.7 0zM327.5 50.2a2.4 2.4 0 1 0 4.7 0a2.4 2.4 0 1 0 -4.7 0zM328.7 49.2a2.4 2.4 0 1 0 4.7 0a2.4 2.4 0 1 0 -4.7 0zM329.3 46.7a2.4 2.4 0 1 0 4.7 0a2.4 2.4 0 1 0 -4.7 0zM330.5 49.2a2.4 2.4 0 1 0 4.7 0a2.4 2.4 0 1 0 -4.7 0zM331.1 49.7a2.4 2.4 0 1 0 4.7 0a2.4 2.4 0 1 0 -4.7 0zM331.7 48.4a2.4 2.4 0 1 0 4.7 0a2.4 2.4 0 1 0 -4.7 0zM333.4 48.2a2.4 2.4 0 1 0 4.7 0a2.4 2.4 0 1 0 -4.7 0zM334.0 47.8a2.4 2.4 0 1 0 4.7 0a2.4 2.4 0 1 0 -4.7 0zM335.7 46.5a2.4 2.4 0 1 0 4.7 0a2.4 2.4 0 1 0 -4.7 0zM336.3 48.1a2.4 2.4 0 1 0 4.7 0a2.4 2.4 0 1 0 -4.7 0zM336.9 49.5a2.4 2.4 0 1 0 4.7 0a2.4 2.4 0 1 0 -4.7 0zM338.0 47.5a2.4 2.4 0 1 0 4.7 0a2.4 2.4 0 1 0 -4.7 0zM338.6 47.4a2.4 2.4 0 1 0 4.7 0a2.4 2.4 0 1 0 -4.7 0zM340.9 45.9a2.4 2.4 0 1 0 4.7 0a2.4 2.4 0 1 0 -4.7 0zM341.5 46.0a2.4 2.4 0 1 0 4.7 0a2.4 2.4 0 1 0 -4.7 0zM342.0 47.8a2.4 2.4 0 1 0 4.7 0a2.4 2.4 0 1 0 -4.7 0zM342.6 45.9a2.4 2.4 0 1 0 4.7 0a2.4 2.4 0 1 0 -4.7 0zM343.1 45.4a2.4 2.4 0 1 0 4.7 0a2.4 2.4 0 1 0 -4.7 0zM344.8 46.1a2.4 2.4 0 1 0 4.7 0a2.4 2.4 0 1 0 -4.7 0zM345.4 44.4a2.4 2.4 0 1 0 4.7 0a2.4 2.4 0 1 0 -4.7 0zM345.9 45.0a2.4 2.4 0 1 0 4.7 0a2.4 2.4 0 1 0 -4.7 0zM347.1 44.2a2.4 2.4 0 1 0 4.7 0a2.4 2.4 0 1 0 -4.7 0zM347.6 44.2a2.4 2.4 0 1 0 4.7 0a2.4 2.4 0 1 0 -4.7 0zM348.7 42.3a2.4 2.4 0 1 0 4.7 0a2.4 2.4 0 1 0 -4.7 0zM349.3 39.5a2.4 2.4 0 1 0 4.7 0a2.4 2.4 0 1 0 -4.7 0zM349.8 42.6a2.4 2.4 0 1 0 4.7 0a2.4 2.4 0 1 0 -4.7 0zM350.9 44.3a2.4 2.4 0 1 0 4.7 0a2.4 2.4 0 1 0 -4.7 0zM353.6 43.3a2.4 2.4 0 1 0 4.7 0a2.4 2.4 0 1 0 -4.7 0zM354.2 43.8a2.4 2.4 0 1 0 4.7 0a2.4 2.4 0 1 0 -4.7 0zM354.7 42.6a2.4 2.4 0 1 0 4.7 0a2.4 2.4 0 1 0 -4.7 0zM355.8 43.1a2.4 2.4 0 1 0 4.7 0a2.4 2.4 0 1 0 -4.7 0zM356.3 39.5a2.4 2.4 0 1 0 4.7 0a2.4 2.4 0 1 0 -4.7 0zM357.9 41.5a2.4 2.4 0 1 0 4.7 0a2.4 2.4 0 1 0 -4.7 0zM358.5 39.8a2.4 2.4 0 1 0 4.7 0a2.4 2.4 0 1 0 -4.7 0zM360.1 43.0a2.4 2.4 0 1 0 4.7 0a2.4 2.4 0 1 0 -4.7 0zM361.6 42.2a2.4 2.4 0 1 0 4.7 0a2.4 2.4 0 1 0 -4.7 0zM362.2 39.0a2.4 2.4 0 1 0 4.7 0a2.4 2.4 0 1 0 -4.7 0zM364.3 43.8a2.4 2.4 0 1 0 4.7 0a2.4 2.4 0 1 0 -4.7 0zM364.8 41.1a2.4 2.4 0 1 0 4.7 0a2.4 2.4 0 1 0 -4.7 0zM366.4 42.8a2.4 2.4 0 1 0 4.7 0a2.4 2.4 0 1 0 -4.7 0zM366.9 38.2a2.4 2.4 0 1 0 4.7 0a2.4 2.4 0 1 0 -4.7 0zM368.4 41.8a2.4 2.4 0 1 0 4.7 0a2.4 2.4 0 1 0 -4.7 0zM370.0 39.9a2.4 2.4 0 1 0 4.7 0a2.4 2.4 0 1 0 -4.7 0zM370.5 39.7a2.4 2.4 0 1 0 4.7 0a2.4 2.4 0 1 0 -4.7 0zM371.5 41.9a2.4 2.4 0 1 0 4.7 0a2.4 2.4 0 1 0 -4.7 0zM372.0 35.9a2.4 2.4 0 1 0 4.7 0a2.4 2.4 0 1 0 -4.7 0zM372.5 39.7a2.4 2.4 0 1 0 4.7 0a2.4 2.4 0 1 0 -4.7 0zM373.0 37.0a2.4 2.4 0 1 0 4.7 0a2.4 2.4 0 1 0 -4.7 0zM374.0 40.3a2.4 2.4 0 1 0 4.7 0a2.4 2.4 0 1 0 -4.7 0zM374.5 41.2a2.4 2.4 0 1 0 4.7 0a2.4 2.4 0 1 0 -4.7 0zM375.1 38.5a2.4 2.4 0 1 0 4.7 0a2.4 2.4 0 1 0 -4.7 0zM375.6 38.2a2.4 2.4 0 1 0 4.7 0a2.4 2.4 0 1 0 -4.7 0zM376.1 33.8a2.4 2.4 0 1 0 4.7 0a2.4 2.4 0 1 0 -4.7 0zM376.6 39.4a2.4 2.4 0 1 0 4.7 0a2.4 2.4 0 1 0 -4.7 0zM379.1 38.5a2.4 2.4 0 1 0 4.7 0a2.4 2.4 0 1 0 -4.7 0zM379.6 36.9a2.4 2.4 0 1 0 4.7 0a2.4 2.4 0 1 0 -4.7 0zM381.0 35.0a2.4 2.4 0 1 0 4.7 0a2.4 2.4 0 1 0 -4.7 0zM382.0 34.5a2.4 2.4 0 1 0 4.7 0a2.4 2.4 0 1 0 -4.7 0zM383.0 36.6a2.4 2.4 0 1 0 4.7 0a2.4 2.4 0 1 0 -4.7 0zM383.5 36.0a2.4 2.4 0 1 0 4.7 0a2.4 2.4 0 1 0 -4.7 0zM384.5 34.6a2.4 2.4 0 1 0 4.7 0a2.4 2.4 0 1 0 -4.7 0zM385.0 33.8a2.4 2.4 0 1 0 4.7 0a2.4 2.4 0 1 0 -4.7 0zM385.8 36.4a2.4 2.4 0 1 0 4.7 0a2.4 2.4 0 1 0 -4.7 0z" fill="#dc32aa"/></g>
<g><path d="M75.2 208.2h4.8v4.8h-4.8zM78.9 195.1h4.8v4.8h-4.8zM81.6 184.9h4.8v4.8h-4.8zM83.4 180.4h4.8v4.8h-4.8zM85.2 176.9h4.8v4.8h-4.8zM87.1 174.2h4.8v4.8h-4.8zM88.9 172.1h4.8v4.8h-4.8zM90.7 170.4h4.8v4.8h-4.8zM92.5 169.0h4.8v4.8h-4.8zM94.3 167.5h4.8v4.8h-4.8zM96.1 166.1h4.8v4.8h-4.8zM97.9 164.7h4.8v4.8h-4.8zM99.7 163.4h4.8v4.8h-4.8zM101.5 162.2h4.8v4.8h-4.8zM103.3 161.1h4.8v4.8h-4.8zM105.2 160.0h4.8v4.8h-4.8zM107.0 159.0h4.8v4.8h-4.8zM108.8 158.0h4.8v4.8h-4.8zM110.6 157.1h4.8v4.8h-4.8zM112.4 156.1h4.8v4.8h-4.8zM114.2 155.2h4.8v4.8h-4.8zM116.0 154.4h4.8v4.8h-4.8zM117.8 153.6h4.8v4.8h-4.8zM119.6 152.8h4.8v4.8h-4.8zM121.4 152.1h4.8v4.8h-4.8zM123.3 151.4h4.8v4.8h-4.8zM125.1 150.7h4.8v4.8h-4.8zM126.9 150.1h4.8v4.8h-4.8zM128.7 149.5h4.8v4.8h-4.8zM130.5 148.9h4.8v4.8h-4.8zM132.3 148.3h4.8v4.8h-4.8zM134.1 147.8h4.8v4.8h-4.8zM135.9 147.2h4.8v4.8h-4.8zM137.7 146.7h4.8v4.8h-4.8zM139.5 146.3h4.8v4.8h-4.8zM141.4 145.9h4.8v4.8h-4.8zM143.2 145.5h4.8v4.8h-4.8zM145.0 145.1h4.8v4.8h-4.8zM146.8 144.8h4.8v4.8h-4.8zM148.6 144.5h4.8v4.8h-4.8zM150.4 144.2h4.8v4.8h-4.8zM152.2 144.0h4.8v4.8h-4.8zM154.0 143.8h4.8v4.8h-4.8zM155.8 143.7h4.8v4.8h-4.8zM157.6 143.5h4.8v4.8h-4.8zM159.5 143.4h4.8v4.8h-4.8zM161.3 143.3h4.8v4.8h-4.8zM163.1 143.2h4.8v4.8h-4.8zM164.9 143.1h4.8v4.8h-4.8zM166.7 143.0h4.8v4.8h-4.8zM168.5 142.9h4.8v4.8h-4.8zM170.3 142.8h4.8v4.8h-4.8zM172.1 142.7h4.8v4.8h-4.8zM173.9 142.7h4.8v4.8h-4.8zM175.7 142.6h4.8v4.8h-4.8zM177.6 142.5h4.8v4.8h-4.8zM179.4 142.4h4.8v4.8h-4.8zM181.2 142.4h4.8v4.8h-4.8zM183.0 142.3h4.8v4.8h-4.8zM184.8 142.2h4.8v4.8h-4.8zM186.6 142.1h4.8v4.8h-4.8zM188.4 142.1h4.8v4.8h-4.8zM190.2 142.0h4.8v4.8h-4.8zM192.0 142.0h4.8v4.8h-4.8zM193.8 142.0h4.8v4.8h-4.8zM195.7 142.0h4.8v4.8h-4.8zM197.5 142.0h4.8v4.8h-4.8zM199.3 142.0h4.8v4.8h-4.8zM201.8 142.0h4.8v4.8h-4.8zM208.6 142.0h4.8v4.8h-4.8zM218.3 142.0h4.8v4.8h-4.8z" fill="#0a7ddc"/></g>
<g><path d="M72.7 225.8l4.4 4.4M72.7 230.2l4.4 -4.4M74.9 225.2v5.5M77.0 201.7l4.4 4.4M77.0 206.1l4.4 -4.4M79.2 201.2v5.5M78.7 196.3l4.4 4.4M78.7 200.7l4.4 -4.4M80.9 195.8v5.5M80.2 191.5l4.4 4.4M80.2 195.9l4.4 -4.4M82.4 191.0v5.5M81.5 187.4l4.4 4.4M81.5 191.8l4.4 -4.4M83.7 186.8v5.5M82.4 184.9l4.4 4.4M82.4 189.3l4.4 -4.4M84.6 184.4v5.5M83.3 182.9l4.4 4.4M83.3 187.3l4.4 -4.4M85.5 182.3v5.5M84.2 181.0l4.4 4.4M84.2 185.4l4.4 -4.4M86.4 180.4v5.5M85.1 179.2l4.4 4.4M85.1 183.6l4.4 -4.4M87.3 178.7v5.5M86.0 177.7l4.4 4.4M86.0 182.1l4.4 -4.4M88.2 177.1v5.5M86.9 176.3l4.4 4.4M86.9 180.7l4.4 -4.4M89.1 175.7v5.5M87.8 175.1l4.4 4.4M87.8 179.5l4.4 -4.4M90.0 174.6v5.5M88.7 174.2l4.4 4.4M88.7 178.6l4.4 -4.4M90.9 173.6v5.5M89.7 173.3l4.4 4.4M89.7 177.7l4.4 -4.4M91.9 172.7v5.5M90.6 172.5l4.4 4.4M90.6 176.9l4.4 -4.4M92.8 172.0v5.5M91.5 171.8l4.4 4.4M91.5 176.2l4.4 -4.4M93.7 171.3v5.5M92.4 171.2l4.4 4.4M92.4 175.6l4.4 -4.4M94.6 170.6v5.5M93.3 170.5l4.4 4.4M93.3 174.9l4.4 -4.4M95.5 170.0v5.5M94.2 169.9l4.4 4.4M94.2 174.3l4.4 -4.4M96.4 169.3v5.5M95.1 169.3l4.4 4.4M95.1 173.7l4.4 -4.4M97.3 168.7v5.5M96.0 168.6l4.4 4.4M96.0 173.0l4.4 -4.4M98.2 168.1v5.5M96.9 168.0l4.4 4.4M96.9 172.4l4.4 -4.4M99.1 167.5v5.5M97.8 167.4l4.4 4.4M97.8 171.8l4.4 -4.4M100.0 166.9v5.5M98.7 166.8l4.4 4.4M98.7 171.2l4.4 -4.4M100.9 166.3v5.5M99.6 166.3l4.4 4.4M99.6 170.7l4.4 -4.4M101.8 165.7v5.5M100.5 165.8l4.4 4.4M100.5 170.2l4.4 -4.4M102.7 165.2v5.5M101.4 165.3l4.4 4.4M101.4 169.7l4.4 -4.4M103.6 164.8v5.5M102.3 164.9l4.4 4.4M102.3 169.3l4.4 -4.4M104.5 164.4v5.5M103.2 164.5l4.4 4.4M103.2 168.9l4.4 -4.4M105.4 164.0v5.5M104.1 164.2l4.4 4.4M104.1 168.6l4.4 -4.4M106.3 163.6v5.5M105.0 163.9l4.4 4.4M105.0 168.3l4.4 -4.4M107.2 163.4v5.5M105.9 163.6l4.4 4.4M105.9 168.0l4.4 -4.4M108.1 163.1v5.5M106.8 163.4l4.4 4.4M106.8 167.8l4.4 -4.4M109.0 162.8v5.5M107.7 163.1l4.4 4.4M107.7 167.5l4.4 -4.4M109.9 162.6v5.5M108.7 162.8l4.4 4.4M108.7 167.2l4.4 -4.4M110.9 162.3v5.5M109.6 162.6l4.4 4.4M109.6 167.0l4.4 -4.4M111.8 162.0v5.5M110.5 162.3l4.4 4.4M110.5 166.7l4.4 -4.4M112.7 161.8v5.5M111.4 162.0l4.4 4.4M111.4 166.4l4.4 -4.4M113.6 161.5v5.5M112.3 161.7l4.4 4.4M112.3 166.1l4.4 -4.4M114.5 161.2v5.5M113.2 161.5l4.4 4.4M113.2 165.9l4.4 -4.4M115.4 160.9v5.5M114.1 161.2l4.4 4.4M114.1 165.6l4.4 -4.4M116.3 160.6v5.5M115.0 160.9l4.4 4.4M115.0 165.3l4.4 -4.4M117.2 160.4v5.5M115.9 160.6l4.4 4.4M115.9 165.0l4.4 -4.4M118.1 160.1v5.5M116.8 160.4l4.4 4.4M116.8 164.8l4.4 -4.4M119.0 159.8v5.5M117.7 160.1l4.4 4.4M117.7 164.5l4.4 -4.4M119.9 159.6v5.5M118.6 159.9l4.4 4.4M118.6 164.3l4.4 -4.4M120.8 159.3v5.5M119.5 159.6l4.4 4.4M119.5 164.0l4.4 -4.4M121.7 159.1v5.5M120.4 159.4l4.4 4.4M120.4 163.8l4.4 -4.4M122.6 158.8v5.5M121.3 159.2l4.4 4.4M121.3 163.6l4.4 -4.4M123.5 158.6v5.5M122.2 159.0l4.4 4.4M122.2 163.4l4.4 -4.4M124.4 158.4v5.5M123.1 158.8l4.4 4.4M123.1 163.2l4.4 -4.4M125.3 158.2v5.5M124.0 158.6l4.4 4.4M124.0 163.0l4.4 -4.4M126.2 158.1v5.5M124.9 158.5l4.4 4.4M124.9 162.9l4.4 -4.4M127.1 157.9v5.5M125.8 158.3l4.4 4.4M125.8 162.7l4.4 -4.4M128.0 157.7v5.5M126.8 158.1l4.4 4.4M126.8 162.5l4.4 -4.4M129.0 157.6v5.5M127.7 158.0l4.4 4.4M127.7 162.4l4.4 -4.4M129.9 157.4v5.5M128.6 157.8l4.4 4.4M128.6 162.2l4.4 -4.4M130.8 157.3v5.5M129.5 157.7l4.4 4.4M129.5 162.1l4.4 -4.4M131.7 157.2v5.5M130.4 157.6l4.4 4.4M130.4 162.0l4.4 -4.4M132.6 157.0v5.5M131.3 157.4l4.4 4.4M131.3 161.8l4.4 -4.4M133.5 156.9v5.5M132.2 157.3l4.4 4.4M132.2 161.7l4.4 -4.4M134.4 156.8v5.5M133.1 157.2l4.4 4.4M133.1 161.6l4.4 -4.4M135.3 156.7v5.5M134.0 157.2l4.4 4.4M134.0 161.6l4.4 -4.4M136.2 156.6v5.5M134.9 157.1l4.4 4.4M134.9 161.5l4.4 -4.4M137.1 156.5v5.5M135.8 157.0l4.4 4.4M135.8 161.4l4.4 -4.4M138.0 156.5v5.5M136.7 157.0l4.4 4.4M136.7 161.4l4.4 -4.4M138.9 156.4v5.5M137.6 156.9l4.4 4.4M137.6 161.3l4.4 -4.4M139.8 156.4v5.5M138.5 156.9l4.4 4.4M138.5 161.3l4.4 -4.4M140.7 156.4v5.5M139.4 156.9l4.4 4.4M139.4 161.3l4.4 -4.4M141.6 156.3v5.5M140.3 156.8l4.4 4.4M140.3 161.2l4.4 -4.4M142.5 156.3v5.5M141.2 156.8l4.4 4.4M141.2 161.2l4.4 -4.4M143.4 156.2v5.5M142.1 156.8l4.4 4.4M142.1 161.2l4.4 -4.4M144.3 156.2v5.5M143.0 156.7l4.4 4.4M143.0 161.1l4.4 -4.4M145.2 156.2v5.5M143.9 156.7l4.4 4.4M143.9 161.1l4.4 -4.4M146.1 156.2v5.5M144.9 156.7l4.4 4.4M144.9 161.1l4.4 -4.4M147.1 156.1v5.5M145.8 156.7l4.4 4.4M145.8 161.1l4.4 -4.4M148.0 156.1v5.5M146.7 156.6l4.4 4.4M146.7 161.0l4.4 -4.4M148.9 156.1v5.5M147.6 156.6l4.4 4.4M147.6 161.0l4.4 -4.4M149.8 156.1v5.5M148.5 156.6l4.4 4.4M148.5 161.0l4.4 -4.4M150.7 156.0v5.5M149.4 156.6l4.4 4.4M149.4 161.0l4.4 -4.4M151.6 156.0v5.5M150.3 156.6l4.4 4.4M150.3 161.0l4.4 -4.4M152.5 156.0v5.5M153.3 156.5l4.4 4.4M153.3 160.9l4.4 -4.4M155.5 156.0v5.5M158.3 156.5l4.4 4.4M158.3 160.9l4.4 -4.4M160.5 155.9v5.5M165.8 156.4l4.4 4.4M165.8 160.8l4.4 -4.4M168.0 155.9v5.5M172.6 156.4l4.4 4.4M172.6 160.8l4.4 -4.4M174.8 155.9v5.5" fill="none" stroke="#9a4a0c" stroke-width="0.95"/></g>
<g><path d="M72.6 226.2l4.6 4.6M72.6 230.8l4.6 -4.6M74.3 213.7l4.6 4.6M74.3 218.3l4.6 -4.6M77.1 202.9l4.6 4.6M77.1 207.5l4.6 -4.6M76.1 201.8l4.6 4.6M76.1 206.4l4.6 -4.6M76.7 200.6l4.6 4.6M76.7 205.2l4.6 -4.6M77.3 199.7l4.6 4.6M77.3 204.3l4.6 -4.6M78.0 198.5l4.6 4.6M78.0 203.1l4.6 -4.6M78.3 197.5l4.6 4.6M78.3 202.1l4.6 -4.6M78.7 196.6l4.6 4.6M78.7 201.2l4.6 -4.6M79.0 195.7l4.6 4.6M79.0 200.3l4.6 -4.6M78.7 194.8l4.6 4.6M78.7 199.4l4.6 -4.6M78.9 194.1l4.6 4.6M78.9 198.7l4.6 -4.6M79.7 192.9l4.6 4.6M79.7 197.5l4.6 -4.6M79.8 192.1l4.6 4.6M79.8 196.7l4.6 -4.6M80.2 191.2l4.6 4.6M80.2 195.8l4.6 -4.6M80.4 190.1l4.6 4.6M80.4 194.7l4.6 -4.6M80.8 189.5l4.6 4.6M80.8 194.1l4.6 -4.6M81.5 188.7l4.6 4.6M81.5 193.3l4.6 -4.6M81.5 187.3l4.6 4.6M81.5 191.9l4.6 -4.6M81.7 186.1l4.6 4.6M81.7 190.7l4.6 -4.6M82.5 185.3l4.6 4.6M82.5 189.9l4.6 -4.6M83.2 183.9l4.6 4.6M83.2 188.5l4.6 -4.6M83.6 184.0l4.6 4.6M83.6 188.6l4.6 -4.6M84.2 183.0l4.6 4.6M84.2 187.6l4.6 -4.6M84.4 182.5l4.6 4.6M84.4 187.1l4.6 -4.6M85.2 181.4l4.6 4.6M85.2 186.0l4.6 -4.6M86.2 180.0l4.6 4.6M86.2 184.6l4.6 -4.6M86.7 179.4l4.6 4.6M86.7 184.0l4.6 -4.6M87.4 179.2l4.6 4.6M87.4 183.8l4.6 -4.6M88.4 178.4l4.6 4.6M88.4 183.0l4.6 -4.6M88.9 177.9l4.6 4.6M88.9 182.5l4.6 -4.6M89.9 177.5l4.6 4.6M89.9 182.1l4.6 -4.6M90.7 176.7l4.6 4.6M90.7 181.3l4.6 -4.6M91.5 176.2l4.6 4.6M91.5 180.8l4.6 -4.6M92.5 175.7l4.6 4.6M92.5 180.3l4.6 -4.6M93.4 175.2l4.6 4.6M93.4 179.8l4.6 -4.6M94.3 174.7l4.6 4.6M94.3 179.3l4.6 -4.6M95.1 174.3l4.6 4.6M95.1 178.9l4.6 -4.6M96.0 174.3l4.6 4.6M96.0 178.9l4.6 -4.6M97.0 174.0l4.6 4.6M97.0 178.6l4.6 -4.6M98.0 173.7l4.6 4.6M98.0 178.3l4.6 -4.6M99.0 173.4l4.6 4.6M99.0 178.0l4.6 -4.6M100.0 173.4l4.6 4.6M100.0 178.0l4.6 -4.6M101.0 173.4l4.6 4.6M101.0 178.0l4.6 -4.6M101.9 173.2l4.6 4.6M101.9 177.8l4.6 -4.6M102.9 172.8l4.6 4.6M102.9 177.4l4.6 -4.6M103.9 173.0l4.6 4.6M103.9 177.6l4.6 -4.6M104.9 172.5l4.6 4.6M104.9 177.1l4.6 -4.6M105.9 172.9l4.6 4.6M105.9 177.5l4.6 -4.6M106.9 172.4l4.6 4.6M106.9 177.0l4.6 -4.6M107.9 172.4l4.6 4.6M107.9 177.0l4.6 -4.6M108.9 172.6l4.6 4.6M108.9 177.2l4.6 -4.6M109.9 172.5l4.6 4.6M109.9 177.1l4.6 -4.6M112.8 172.4l4.6 4.6M112.8 177.0l4.6 -4.6M115.4 171.8l4.6 4.6M115.4 176.4l4.6 -4.6M117.8 172.1l4.6 4.6M117.8 176.7l4.6 -4.6M120.4 172.2l4.6 4.6M120.4 176.8l4.6 -4.6" fill="none" stroke="#f29b0f" stroke-width="1.10"/></g>
<g style="filter:grayscale(1)">
<g transform="translate(68.80 261.20) scale(1.100 1)"><text x="-3.70" y="0.00">0</text></g>
<g transform="translate(122.03 261.20) scale(1.100 1)"><text x="-9.24" y="0.00">0.5</text></g>
<g transform="translate(175.27 261.20) scale(1.100 1)"><path d="M1.08 0.00L-0.09 0.00L-0.09 -6.72L-2.36 -6.72L-2.36 -7.55L-1.08 -7.63L-0.21 -8.06L0.13 -9.43L1.08 -9.43z" fill="#0a0a0a" stroke="#0a0a0a" stroke-width="0.2"/></g>
<g transform="translate(228.50 261.20) scale(1.100 1)"><path d="M-4.47 0.00L-5.64 0.00L-5.64 -6.72L-7.90 -6.72L-7.90 -7.55L-6.62 -7.63L-5.76 -8.06L-5.41 -9.43L-4.47 -9.43z" fill="#0a0a0a" stroke="#0a0a0a" stroke-width="0.2"/><text x="-1.85" y="0.00">.5</text></g>
<g transform="translate(281.73 261.20) scale(1.100 1)"><text x="-3.70" y="0.00">2</text></g>
<g transform="translate(334.97 261.20) scale(1.100 1)"><text x="-9.24" y="0.00">2.5</text></g>
<g transform="translate(388.20 261.20) scale(1.100 1)"><text x="-3.70" y="0.00">3</text></g>
<g transform="translate(60.20 246.20) scale(1.100 1)"><text x="-11.83" y="0.00">-</text><path d="M-2.62 0.00L-3.79 0.00L-3.79 -6.72L-6.05 -6.72L-6.05 -7.55L-4.78 -7.63L-3.91 -8.06L-3.57 -9.43L-2.62 -9.43z" fill="#0a0a0a" stroke="#0a0a0a" stroke-width="0.2"/></g>
<g transform="translate(60.20 211.65) scale(1.100 1)"><text x="-22.92" y="0.00">-0.5</text></g>
<g transform="translate(60.20 177.11) scale(1.100 1)"><text x="-7.40" y="0.00">0</text></g>
<g transform="translate(60.20 142.56) scale(1.100 1)"><text x="-18.49" y="0.00">0.5</text></g>
<g transform="translate(60.20 108.02) scale(1.100 1)"><path d="M-2.62 0.00L-3.79 0.00L-3.79 -6.72L-6.05 -6.72L-6.05 -7.55L-4.78 -7.63L-3.91 -8.06L-3.57 -9.43L-2.62 -9.43z" fill="#0a0a0a" stroke="#0a0a0a" stroke-width="0.2"/></g>
<g transform="translate(60.20 73.47) scale(1.100 1)"><path d="M-13.71 0.00L-14.89 0.00L-14.89 -6.72L-17.15 -6.72L-17.15 -7.55L-15.87 -7.63L-15.01 -8.06L-14.66 -9.43L-13.71 -9.43z" fill="#0a0a0a" stroke="#0a0a0a" stroke-width="0.2"/><text x="-11.09" y="0.00">.5</text></g>
<g transform="translate(60.20 38.93) scale(1.100 1)"><text x="-7.40" y="0.00">2</text></g>
<g transform="translate(79.60 31.20) scale(1.100 1)"><text x="0.00" y="0.00">F</text><path d="M11.93 3.40L11.00 3.40L11.00 -1.95L9.19 -1.95L9.19 -2.62L10.21 -2.68L10.90 -3.02L11.18 -4.12L11.93 -4.12z" fill="#0a0a0a" stroke="#0a0a0a" stroke-width="0.2"/><text x="14.02" y="0.00">(r,T) [GeV]</text></g>
<g transform="translate(217.40 232.60) scale(1.100 1)"><text x="0.00" y="0.00">r [fm]</text></g>
<g transform="translate(324.40 148.90) scale(1.100 1)"><text x="-39.16" y="0.00">0.87T</text><text x="-5.15" y="3.60" style="font-size:10.3px">c</text></g>
<g transform="translate(324.40 163.25) scale(1.100 1)"><text x="-39.16" y="0.00">0.9</text><path d="M-15.90 0.00L-17.07 0.00L-17.07 -6.72L-19.33 -6.72L-19.33 -7.55L-18.05 -7.63L-17.19 -8.06L-16.84 -9.43L-15.90 -9.43z" fill="#0a0a0a" stroke="#0a0a0a" stroke-width="0.2"/><text x="-13.27" y="0.00">T</text><text x="-5.15" y="3.60" style="font-size:10.3px">c</text></g>
<g transform="translate(324.40 177.60) scale(1.100 1)"><text x="-39.16" y="0.00">0.94T</text><text x="-5.15" y="3.60" style="font-size:10.3px">c</text></g>
<g transform="translate(324.40 191.95) scale(1.100 1)"><text x="-39.16" y="0.00">0.98T</text><text x="-5.15" y="3.60" style="font-size:10.3px">c</text></g>
<g transform="translate(324.40 206.30) scale(1.100 1)"><path d="M-34.39 0.00L-35.56 0.00L-35.56 -6.72L-37.82 -6.72L-37.82 -7.55L-36.54 -7.63L-35.68 -8.06L-35.33 -9.43L-34.39 -9.43z" fill="#0a0a0a" stroke="#0a0a0a" stroke-width="0.2"/><text x="-31.76" y="0.00">.05T</text><text x="-5.15" y="3.60" style="font-size:10.3px">c</text></g>
<g transform="translate(324.40 220.65) scale(1.100 1)"><path d="M-34.39 0.00L-35.56 0.00L-35.56 -6.72L-37.82 -6.72L-37.82 -7.55L-36.54 -7.63L-35.68 -8.06L-35.33 -9.43L-34.39 -9.43z" fill="#0a0a0a" stroke="#0a0a0a" stroke-width="0.2"/><text x="-31.76" y="0.00">.50T</text><text x="-5.15" y="3.60" style="font-size:10.3px">c</text></g>
<g transform="translate(324.40 235.00) scale(1.100 1)"><text x="-39.16" y="0.00">3.00T</text><text x="-5.15" y="3.60" style="font-size:10.3px">c</text></g>
</g>
<path d="M332.3 145.2H371.5" stroke="#62c26e" stroke-width="0.9" fill="none"/><path d="M351.9 142.9l1.9 2.3l-1.9 2.3l-1.9 -2.3z" fill="#12961e"/>
<path d="M332.3 159.5H371.5" stroke="#778cff" stroke-width="0.9" fill="none"/><path d="M351.9 161.8l2.3 -3.7h-4.6z" fill="#0a32ff"/>
<path d="M332.3 173.9H371.5" stroke="#f08472" stroke-width="0.9" fill="none"/><path d="M351.9 171.6l2.3 3.7h-4.6z" fill="#de1f0a"/>
<path d="M332.3 188.2H371.5" stroke="#ee78cb" stroke-width="0.9" fill="none"/><path d="M349.5 188.2a2.4 2.4 0 1 0 4.7 0a2.4 2.4 0 1 0 -4.7 0z" fill="#dc32aa"/>
<path d="M332.3 202.6H371.5" stroke="#8ac4f0" stroke-width="0.9" fill="none"/><path d="M349.5 200.2h4.8v4.8h-4.8z" fill="#0a7ddc"/>
<path d="M332.3 216.9H371.5" stroke="#d4a880" stroke-width="0.9" fill="none"/><path d="M349.7 214.8l4.4 4.4M349.7 219.1l4.4 -4.4M351.9 214.2v5.5" fill="none" stroke="#9a4a0c" stroke-width="0.80"/>
<path d="M332.3 231.3H371.5" stroke="#f7ca75" stroke-width="0.9" fill="none"/><path d="M349.6 229.0l4.6 4.6M349.6 233.6l4.6 -4.6" fill="none" stroke="#f29b0f" stroke-width="0.80"/>
</svg>
</body></html>
